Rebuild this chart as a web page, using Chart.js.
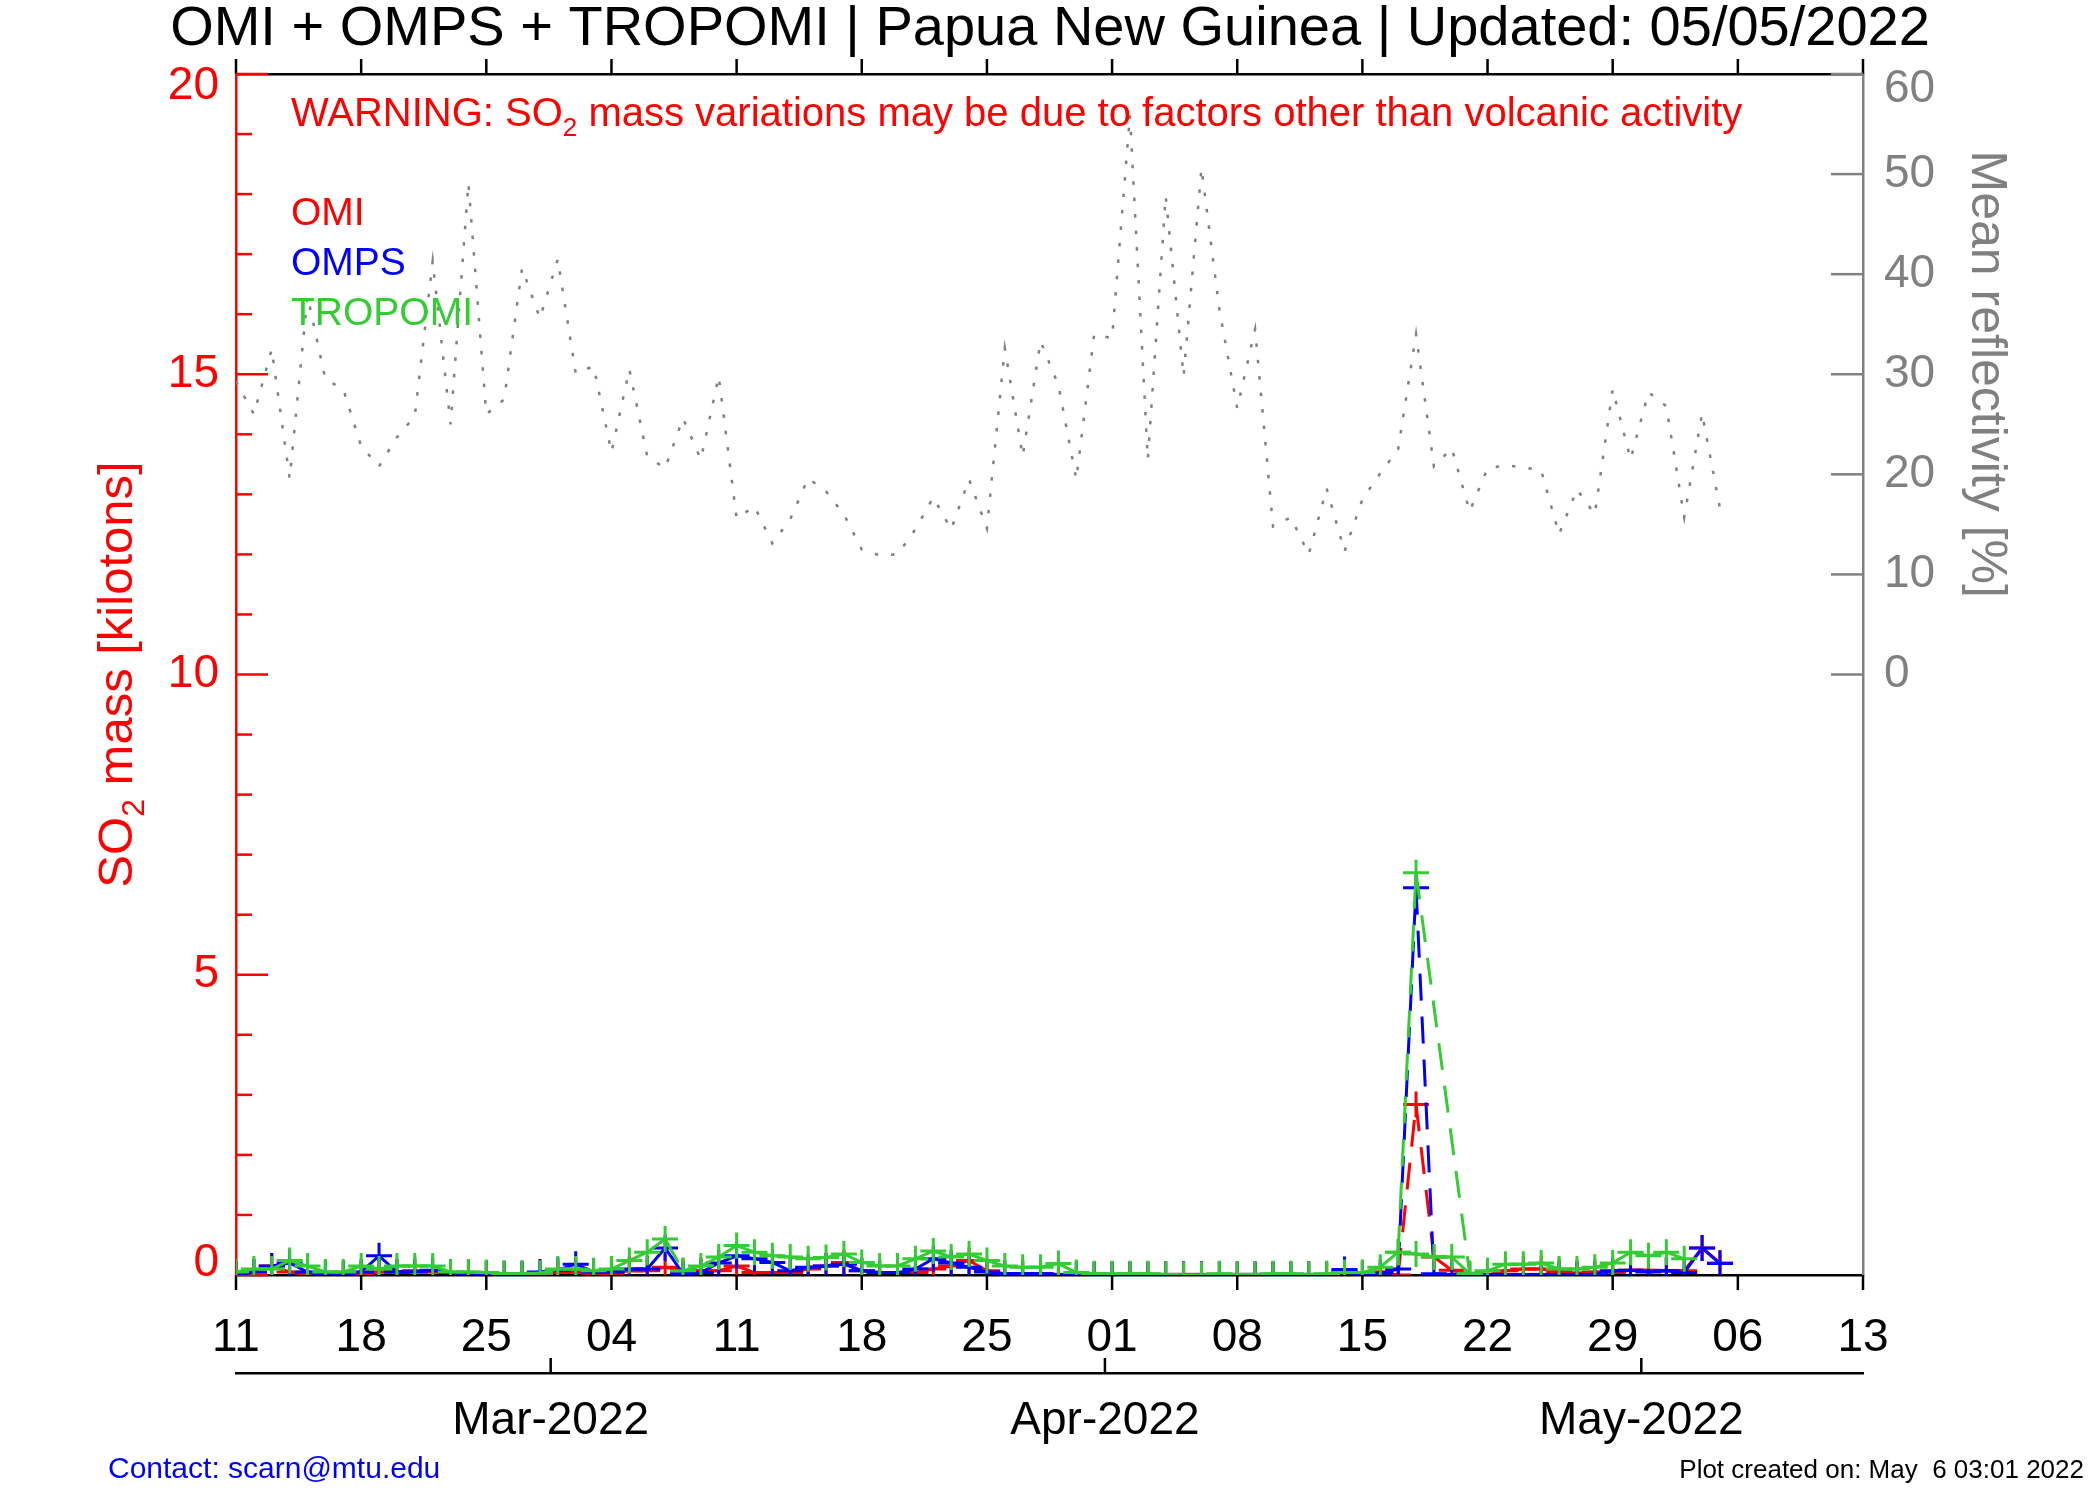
<!DOCTYPE html>
<html>
<head>
<meta charset="utf-8">
<title>SO2 mass - Papua New Guinea</title>
<script src="https://cdn.jsdelivr.net/npm/chart.js@4.4.1/dist/chart.umd.min.js"></script>
<style>
  html, body { margin: 0; padding: 0; background: #fff; }
  canvas { display: block; }
</style>
</head>
<body>
<canvas id="so2-chart" width="2100" height="1500"></canvas>
<script>
// x values are days counted from 11 Feb 2022
const dayTicks = [0, 7, 14, 21, 28, 35, 42, 49, 56, 63, 70, 77, 84, 91];
const dayTickLabels = ['11', '18', '25', '04', '11', '18', '25', '01', '08', '15', '22', '29', '06', '13'];
const monthTicks = [17.6, 48.6, 78.6];
const monthLabels = ['Mar-2022', 'Apr-2022', 'May-2022'];

// SO2 mass [kilotons], one value per day from 11 Feb
const omiMass = [
  0.02, 0.05, 0.15, 0.05, 0.03, 0.02, 0.02, 0.02, 0.05, 0.05,
  0.07, 0.05, 0.04, 0.02, 0.02, 0.02, 0.02, 0.02, 0.04, 0.05,
  0.03, 0.03, 0.07, 0.07, 0.13, 0.07, 0.07, 0.07, 0.15, 0.04,
  0.04, 0.04, 0.10, 0.15, 0.21, 0.07, 0.04, 0.04, 0.04, 0.10,
  0.15, 0.24, 0.07, 0.02, 0.02, 0.02, 0.01, 0.01, 0.01, 0.01,
  0.01, 0.01, 0.01, 0.01, 0.01, 0.01, 0.01, 0.01, 0.01, 0.01,
  0.01, 0.01, 0.07, 0.03, 0.05, 0.00, 2.84, 0.30, 0.08, 0.00,
  0.00, 0.07, 0.10, 0.10, 0.06, 0.03, 0.05, 0.04, 0.08, 0.08,
  0.07, 0.07, 0.45, 0.20
];
const ompsMass = [
  0.02, 0.05, 0.15, 0.20, 0.05, 0.02, 0.02, 0.05, 0.32, 0.05,
  0.05, 0.08, 0.04, 0.03, 0.02, 0.02, 0.02, 0.05, 0.08, 0.18,
  0.05, 0.05, 0.10, 0.10, 0.45, 0.02, 0.04, 0.20, 0.32, 0.27,
  0.21, 0.07, 0.13, 0.15, 0.18, 0.07, 0.04, 0.04, 0.10, 0.27,
  0.20, 0.13, 0.05, 0.02, 0.02, 0.02, 0.01, 0.01, 0.01, 0.01,
  0.01, 0.01, 0.01, 0.01, 0.01, 0.01, 0.01, 0.01, 0.01, 0.01,
  0.01, 0.01, 0.09, 0.00, 0.03, 0.10, 6.45, 0.02, 0.01, 0.01,
  0.01, 0.01, 0.01, 0.01, 0.01, 0.01, 0.01, 0.07, 0.08, 0.05,
  0.07, 0.04, 0.45, 0.19
];
const tropomiMass = [
  0.05, 0.10, 0.10, 0.24, 0.15, 0.05, 0.05, 0.15, 0.10, 0.15,
  0.15, 0.15, 0.05, 0.05, 0.04, 0.02, 0.02, 0.03, 0.10, 0.10,
  0.07, 0.10, 0.24, 0.38, 0.60, 0.07, 0.15, 0.30, 0.49, 0.38,
  0.32, 0.30, 0.27, 0.29, 0.35, 0.21, 0.15, 0.15, 0.27, 0.40,
  0.30, 0.35, 0.24, 0.15, 0.13, 0.13, 0.19, 0.04, 0.02, 0.02,
  0.02, 0.02, 0.01, 0.00, 0.00, 0.02, 0.01, 0.01, 0.02, 0.02,
  0.01, 0.02, 0.04, 0.04, 0.13, 0.38, 0.35, 0.30, 0.30, 0.02,
  0.07, 0.18, 0.18, 0.20, 0.10, 0.10, 0.13, 0.20, 0.38, 0.32,
  0.38, 0.27
];
// second TROPOMI pass around the 18 Apr event
const tropomiPassDays = [65, 66, 69];
const tropomiPassMass = [0.38, 6.7, 0.02];

// mean reflectivity [%]
const reflectivity = [
  29.3, 26.0, 32.5, 19.6, 37.8, 29.5, 28.5, 22.8, 20.8, 23.7,
  25.8, 41.3, 25.0, 49.1, 26.0, 27.5, 40.6, 35.6, 41.5, 30.1,
  30.8, 22.2, 30.5, 21.8, 20.6, 25.6, 21.5, 29.8, 15.6, 16.8,
  13.1, 15.5, 19.6, 18.3, 16.0, 12.5, 11.9, 12.0, 14.5, 17.7,
  14.5, 19.5, 14.6, 32.6, 21.8, 33.3, 28.9, 19.5, 34.0, 33.6,
  55.9, 21.5, 47.8, 29.8, 50.6, 36.5, 26.6, 34.5, 14.8, 15.7,
  12.0, 18.6, 12.3, 17.5, 20.1, 22.5, 34.0, 20.8, 22.6, 16.3,
  20.6, 20.9, 20.7, 20.4, 14.0, 18.5, 16.0, 28.5, 21.5, 28.2,
  26.8, 15.7, 26.1, 16.6
];

const FONT = '"Liberation Sans", Arial, Helvetica, sans-serif';
const RED = '#ff0000';
const BLUE = '#0000ff';
const GREEN = '#33cc33';
const GRAY = '#808080';

Chart.defaults.font.family = FONT;

function toPoints(values, days) {
  return values.map((v, i) => ({ x: days ? days[i] : i, y: v }));
}

// restart the dash pattern at every vertex, like the original plot does
const restartDash = { borderDashOffset: c => (c.p0DataIndex % 2) * 0.01 };

function so2Set(label, color, data) {
  return {
    label: label,
    data: data,
    yAxisID: 'y',
    borderColor: color,
    borderWidth: 3,
    borderDash: [27, 16],
    segment: restartDash,
    pointStyle: 'cross',
    pointRadius: 13,
    pointBorderWidth: 3,
    pointBorderColor: color,
    pointBackgroundColor: color,
    clip: 0,
    tension: 0
  };
}

// end labels sit a little inside the axis, as in the original
function edgeLabel(v, top, bottom) {
  if (v === top) return ['', String(v)];
  if (v === bottom) return [String(v), ''];
  return String(v);
}

function tick(ctx, x1, y1, x2, y2) {
  ctx.beginPath();
  ctx.moveTo(x1, y1);
  ctx.lineTo(x2, y2);
  ctx.stroke();
}

function drawParts(ctx, x, y, parts, size, align) {
  const subSize = Math.round(size * 0.65);
  let width = 0;
  parts.forEach(p => {
    ctx.font = (p.sub ? subSize : size) + 'px ' + FONT;
    width += ctx.measureText(p.t).width;
  });
  let cx = align === 'center' ? x - width / 2 : x;
  parts.forEach(p => {
    ctx.font = (p.sub ? subSize : size) + 'px ' + FONT;
    ctx.fillText(p.t, cx, p.sub ? y + size * 0.25 : y);
    cx += ctx.measureText(p.t).width;
  });
}

const axisMarks = {
  id: 'axisMarks',
  beforeDatasetsDraw(chart) {
    const { ctx, chartArea: a, scales } = chart;
    ctx.save();
    ctx.lineWidth = 2.5;
    ctx.strokeStyle = '#000';
    dayTicks.forEach(d => {
      const x = scales.x.getPixelForValue(d);
      tick(ctx, x, a.top, x, a.top - 15);
      tick(ctx, x, a.bottom, x, a.bottom + 15);
    });
    const mY = scales.x2.top;
    monthTicks.forEach(d => {
      const x = scales.x2.getPixelForValue(d);
      tick(ctx, x, mY, x, mY - 15);
    });
    ctx.strokeStyle = RED;
    for (let v = 0; v <= 20; v++) {
      const y = scales.y.getPixelForValue(v);
      tick(ctx, a.left, y, a.left + (v % 5 ? 16 : 32), y);
    }
    ctx.strokeStyle = GRAY;
    for (let v = 0; v <= 60; v += 10) {
      const y = scales.y2.getPixelForValue(v);
      tick(ctx, a.right, y, a.right - 32, y);
    }
    ctx.restore();
  }
};

const annotations = {
  id: 'annotations',
  afterDraw(chart) {
    const { ctx, chartArea: a, scales } = chart;
    ctx.save();
    ctx.textBaseline = 'alphabetic';
    ctx.textAlign = 'left';

    ctx.fillStyle = RED;
    drawParts(ctx, 291, 126, [
      { t: 'WARNING: SO' }, { t: '2', sub: true },
      { t: ' mass variations may be due to factors other than volcanic activity' }
    ], 40);

    [['OMI', RED, 225], ['OMPS', BLUE, 275], ['TROPOMI', GREEN, 325]].forEach(item => {
      ctx.fillStyle = item[1];
      ctx.font = '39px ' + FONT;
      ctx.fillText(item[0], 291, item[2]);
    });

    // left axis title
    ctx.save();
    ctx.translate(114, (a.top + a.bottom) / 2);
    ctx.rotate(-Math.PI / 2);
    ctx.fillStyle = RED;
    drawParts(ctx, 0, 49 * 0.36, [
      { t: 'SO' }, { t: '2', sub: true }, { t: ' mass [kilotons]' }
    ], 49, 'center');
    ctx.restore();

    // right axis title, centred on the 0-60 range
    ctx.save();
    ctx.translate(1990, scales.y2.getPixelForValue(30));
    ctx.rotate(Math.PI / 2);
    ctx.fillStyle = GRAY;
    drawParts(ctx, 0, 50 * 0.36, [{ t: 'Mean reflectivity [%]' }], 50, 'center');
    ctx.restore();

    ctx.fillStyle = BLUE;
    ctx.font = '30px ' + FONT;
    ctx.fillText('Contact: scarn@mtu.edu', 108, 1478);

    ctx.fillStyle = '#000';
    ctx.font = '26px ' + FONT;
    ctx.textAlign = 'right';
    ctx.fillText('Plot created on: May  6 03:01 2022', 2084, 1478);
    ctx.restore();
  }
};

const ctx = document.getElementById('so2-chart').getContext('2d');
const so2Chart = new Chart(ctx, {
  type: 'line',
  data: {
    datasets: [
      so2Set('TROPOMI', GREEN, toPoints(tropomiPassMass, tropomiPassDays)),
      so2Set('TROPOMI', GREEN, toPoints(tropomiMass)),
      so2Set('OMPS', BLUE, toPoints(ompsMass)),
      so2Set('OMI', RED, toPoints(omiMass)),
      {
        label: 'Mean reflectivity',
        data: toPoints(reflectivity),
        yAxisID: 'y2',
        borderColor: GRAY,
        borderWidth: 2.5,
        borderDash: [3.5, 13],
        pointRadius: 0,
        tension: 0
      }
    ]
  },
  options: {
    responsive: false,
    animation: false,
    devicePixelRatio: 1,
    events: [],
    layout: { padding: 0 },
    plugins: {
      legend: { display: false },
      tooltip: { enabled: false },
      title: {
        display: true,
        text: 'OMI + OMPS + TROPOMI | Papua New Guinea | Updated: 05/05/2022',
        color: '#000',
        font: { family: FONT, size: 56, weight: 'normal', lineHeight: 1 },
        padding: { top: 2, bottom: 16 }
      }
    },
    scales: {
      x: {
        type: 'linear', position: 'bottom', min: 0, max: 91, weight: 0,
        afterBuildTicks: s => { s.ticks = dayTicks.map(v => ({ value: v })); },
        afterFit: s => { s.height = 98; },
        ticks: {
          callback: (v, i) => dayTickLabels[i],
          color: '#000', font: { size: 46 }, padding: 36,
          maxRotation: 0, autoSkip: false
        },
        grid: { drawOnChartArea: false, drawTicks: false },
        border: { color: '#000', width: 2.5 }
      },
      x2: {
        type: 'linear', position: 'bottom', min: 0, max: 91, weight: 1,
        afterBuildTicks: s => { s.ticks = monthTicks.map(v => ({ value: v })); },
        afterFit: s => { s.height = 127; },
        ticks: {
          callback: (v, i) => monthLabels[i],
          color: '#000', font: { size: 46 }, padding: 21,
          maxRotation: 0, autoSkip: false
        },
        grid: { drawOnChartArea: false, drawTicks: false },
        border: { color: '#000', width: 2.5 }
      },
      xTop: {
        type: 'linear', position: 'top', min: 0, max: 91,
        afterFit: s => { s.height = 0; },
        ticks: { display: false },
        grid: { drawOnChartArea: false, drawTicks: false },
        border: { color: '#000', width: 2.5 }
      },
      y: {
        type: 'linear', position: 'left', min: 0, max: 20,
        afterFit: s => { s.width = 236; },
        ticks: {
          stepSize: 5, autoSkip: false,
          callback: v => edgeLabel(v, 20, 0),
          color: RED, font: { size: 46, lineHeight: 0.52 }, padding: 17
        },
        grid: { drawOnChartArea: false, drawTicks: false },
        border: { color: RED, width: 2.5 }
      },
      y2: {
        type: 'linear', position: 'right', min: -60, max: 60,
        afterFit: s => { s.width = 237; },
        ticks: {
          stepSize: 10, autoSkip: false,
          callback: v => (v >= 0 ? edgeLabel(v, 60, null) : ''),
          color: GRAY, font: { size: 46, lineHeight: 0.65 }, padding: 21
        },
        grid: { drawOnChartArea: false, drawTicks: false },
        border: { color: GRAY, width: 2.5 }
      }
    }
  },
  plugins: [axisMarks, annotations]
});
</script>
</body>
</html>
